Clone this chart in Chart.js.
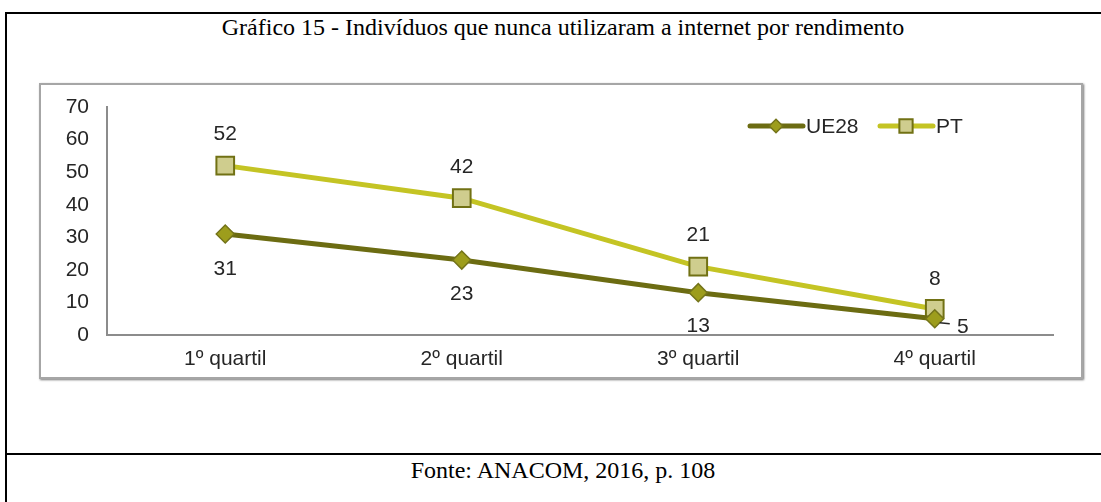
<!DOCTYPE html>
<html>
<head>
<meta charset="utf-8">
<script src="https://cdn.jsdelivr.net/npm/chart.js@4/dist/chart.umd.min.js"></script>
<style>
  html, body { margin: 0; padding: 0; background: #fff; overflow: hidden; width: 1101px; height: 502px; }
  #frame { position: absolute; left: 5px; top: 12px; width: 1200px; height: 600px; border-left: 2px solid #000; border-top: 2px solid #000; }
  #sep { position: absolute; left: 5px; top: 453px; width: 1200px; height: 2px; background: #000; }
  .caption { position: absolute; left: 0; width: 1126px; text-align: center; font-family: "Liberation Serif", "Times New Roman", serif; font-size: 24px; color: #000; }
  #title { top: 14px; }
  #source { top: 457px; }
  #box { position: absolute; left: 39px; top: 83px; width: 1040px; height: 292px; border: 2px solid #a6a6a6; box-shadow: 1px 1px 2px #777; }
  #box canvas { display: block; }
</style>
</head>
<body>
<div id="frame"></div>
<div id="sep"></div>
<div id="title" class="caption">Gráfico 15 - Indivíduos que nunca utilizaram a internet por rendimento</div>
<div id="box"><canvas id="chart" width="1040" height="292"></canvas></div>
<div id="source" class="caption">Fonte: ANACOM, 2016, p. 108</div>
<script>
const categories = ["1º quartil", "2º quartil", "3º quartil", "4º quartil"];
const ue28 = [31, 23, 13, 5];
const pt = [52, 42, 21, 8];
const yTicks = [0, 10, 20, 30, 40, 50, 60, 70];

const darkOlive = '#6c6c12';
const lightOlive = '#c4c424';
const font = '"Liberation Sans", Arial, sans-serif';
const textSize = 21;

// where each value label sits relative to its point
const labelOffsets = [
  [[0, 35], [0, 34], [0, 34], [28, 8]],
  [[0, -31], [0, -31], [0, -31], [0, -30]]
];

const valueLabels = {
  id: 'valueLabels',
  afterDatasetsDraw(chart) {
    const ctx = chart.ctx;
    ctx.save();
    ctx.font = textSize + 'px ' + font;
    ctx.fillStyle = '#262626';
    ctx.textAlign = 'center';
    ctx.textBaseline = 'middle';
    chart.data.datasets.forEach((ds, i) => {
      chart.getDatasetMeta(i).data.forEach((pt, j) => {
        const off = labelOffsets[i][j];
        ctx.fillText(ds.data[j], pt.x + off[0], pt.y + off[1]);
        if (i === 0 && j === 3) {
          ctx.strokeStyle = '#262626';
          ctx.lineWidth = 1.5;
          ctx.beginPath();
          ctx.moveTo(pt.x + 5, pt.y + 4);
          ctx.lineTo(pt.x + 15, pt.y + 5);
          ctx.stroke();
        }
      });
    });
    ctx.restore();
  }
};

const legendBox = {
  id: 'legendBox',
  afterDraw(chart) {
    const ctx = chart.ctx;
    const y = 41;
    const items = [
      { x: 709, ds: chart.data.datasets[0] },
      { x: 839, ds: chart.data.datasets[1] }
    ];
    ctx.save();
    items.forEach(it => {
      ctx.strokeStyle = it.ds.borderColor;
      ctx.lineWidth = 5;
      ctx.lineCap = 'round';
      ctx.beginPath();
      ctx.moveTo(it.x, y);
      ctx.lineTo(it.x + 53, y);
      ctx.stroke();
      ctx.fillStyle = it.ds.pointBackgroundColor;
      ctx.strokeStyle = it.ds.pointBorderColor;
      ctx.lineWidth = it.ds.pointBorderWidth;
      Chart.helpers.drawPoint(ctx, {
        pointStyle: it.ds.pointStyle,
        radius: it.ds.pointRadius * 0.75,
        rotation: 0,
        borderWidth: it.ds.pointBorderWidth
      }, it.x + 26, y);
      ctx.fillStyle = '#262626';
      ctx.font = textSize + 'px ' + font;
      ctx.textAlign = 'left';
      ctx.textBaseline = 'middle';
      ctx.fillText(it.ds.label, it.x + 56, y + 1);
    });
    ctx.restore();
  }
};

new Chart(document.getElementById('chart'), {
  type: 'line',
  data: {
    labels: categories,
    datasets: [{
      label: 'UE28',
      data: ue28,
      borderColor: darkOlive,
      borderWidth: 5,
      pointStyle: 'rectRot',
      pointRadius: 9,
      pointBackgroundColor: '#9d9d1c',
      pointBorderColor: '#74741a',
      pointBorderWidth: 1.5,
      tension: 0
    }, {
      label: 'PT',
      data: pt,
      borderColor: lightOlive,
      borderWidth: 5,
      pointStyle: 'rect',
      pointRadius: 12.5,
      pointBackgroundColor: '#cfcd8e',
      pointBorderColor: '#717114',
      pointBorderWidth: 2,
      tension: 0
    }]
  },
  options: {
    responsive: false,
    animation: false,
    layout: { padding: { top: 22, right: 28, left: 0, bottom: 0 } },
    plugins: { legend: { display: false }, tooltip: { enabled: false } },
    scales: {
      x: {
        offset: true,
        grid: { display: false, drawTicks: false },
        border: { color: '#8c8c8c', width: 2 },
        ticks: { color: '#262626', font: { family: font, size: textSize }, padding: 12 },
        afterFit(scale) { scale.height = 42; }
      },
      y: {
        min: 0,
        max: 70,
        grid: { display: false, drawTicks: false },
        border: { color: '#8c8c8c', width: 2 },
        afterBuildTicks(scale) { scale.ticks = yTicks.map(v => ({ value: v })); },
        ticks: { color: '#262626', font: { family: font, size: textSize }, padding: 18 },
        afterFit(scale) {
          scale.width = 66;
          scale.paddingTop = 0;
          scale.paddingBottom = 0;
        }
      }
    }
  },
  plugins: [valueLabels, legendBox]
});
</script>
</body>
</html>
